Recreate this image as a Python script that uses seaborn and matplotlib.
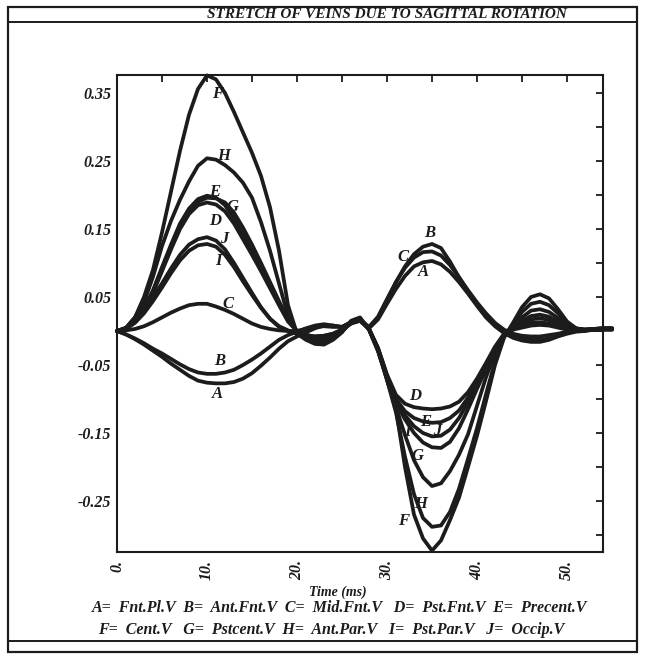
import numpy as np
import pandas as pd
import matplotlib
matplotlib.use("Agg")
import matplotlib.pyplot as plt
import seaborn as sns
from matplotlib.patches import Rectangle
from matplotlib.lines import Line2D

# ---------------- data ----------------
time_ms = list(range(0, 56))

vein_A = [0, -0.005, -0.012, -0.02, -0.029, -0.038, -0.048, -0.057, -0.066, -0.073,
          -0.076, -0.077, -0.077, -0.075, -0.07, -0.062, -0.051, -0.039, -0.026, -0.015,
          -0.008, -0.002, 0.004, 0.008, 0.008, 0.006, 0.012, 0.015, 0.004, 0.017,
          0.04, 0.062, 0.081, 0.095, 0.101, 0.103, 0.098, 0.087, 0.072, 0.055,
          0.037, 0.02, 0.007, -0.003, -0.01, -0.014, -0.016, -0.016, -0.013, -0.008,
          -0.004, -0.001, 0.0, 0.002, 0.003, 0.003]
vein_B = [0, -0.005, -0.011, -0.018, -0.026, -0.033, -0.041, -0.049, -0.056, -0.061,
          -0.063, -0.063, -0.061, -0.057, -0.05, -0.042, -0.033, -0.023, -0.013, -0.006,
          -0.001, 0.004, 0.008, 0.01, 0.008, 0.006, 0.013, 0.016, 0.005, 0.02,
          0.045, 0.072, 0.095, 0.113, 0.124, 0.128, 0.122, 0.102, 0.079, 0.058,
          0.04, 0.023, 0.01, 0.001, -0.007, -0.011, -0.013, -0.013, -0.011, -0.007,
          -0.003, 0.0, 0.001, 0.002, 0.002, 0.002]
vein_C = [0, 0.001, 0.003, 0.007, 0.013, 0.02, 0.027, 0.033, 0.038, 0.04,
          0.04, 0.036, 0.031, 0.025, 0.018, 0.011, 0.006, 0.003, 0.001, 0.0,
          0.0, 0.003, 0.006, 0.007, 0.006, 0.006, 0.013, 0.017, 0.006, 0.021,
          0.047, 0.072, 0.093, 0.108, 0.116, 0.117, 0.111, 0.097, 0.079, 0.06,
          0.042, 0.026, 0.012, 0.002, -0.004, -0.007, -0.008, -0.008, -0.006, -0.004,
          -0.001, 0.0, 0.001, 0.002, 0.002, 0.002]
vein_D = [0, 0.004, 0.015, 0.031, 0.056, 0.088, 0.12, 0.15, 0.172, 0.185,
          0.189, 0.186, 0.176, 0.158, 0.135, 0.112, 0.088, 0.063, 0.038, 0.014,
          0.0, -0.005, -0.009, -0.01, -0.006, 0.001, 0.011, 0.016, 0.003, -0.025,
          -0.064, -0.094, -0.107, -0.112, -0.114, -0.115, -0.114, -0.111, -0.104, -0.09,
          -0.07, -0.047, -0.023, -0.004, 0.002, 0.005, 0.008, 0.009, 0.008, 0.005,
          0.002, 0.001, 0.001, 0.002, 0.003, 0.003]
vein_E = [0, 0.004, 0.016, 0.033, 0.06, 0.094, 0.127, 0.158, 0.18, 0.194,
          0.199, 0.196, 0.185, 0.166, 0.142, 0.117, 0.092, 0.066, 0.04, 0.015,
          0.0, -0.006, -0.01, -0.011, -0.007, 0.001, 0.012, 0.017, 0.003, -0.025,
          -0.066, -0.1, -0.118, -0.128, -0.133, -0.135, -0.134, -0.128, -0.117, -0.098,
          -0.075, -0.05, -0.025, -0.006, 0.002, 0.008, 0.012, 0.013, 0.011, 0.007,
          0.003, 0.001, 0.001, 0.002, 0.003, 0.003]
vein_F = [0, 0.004, 0.02, 0.05, 0.09, 0.145, 0.205, 0.265, 0.318, 0.356,
          0.376, 0.37, 0.35, 0.322, 0.292, 0.262, 0.228, 0.182, 0.118, 0.038,
          -0.004, -0.013, -0.019, -0.02, -0.013, -0.002, 0.015, 0.02, 0.002, -0.03,
          -0.07, -0.115, -0.2, -0.27, -0.305, -0.323, -0.308, -0.278, -0.245, -0.2,
          -0.154, -0.103, -0.05, -0.01, 0.012, 0.035, 0.05, 0.054, 0.048, 0.032,
          0.014, 0.004, 0.001, 0.002, 0.003, 0.003]
vein_G = [0, 0.004, 0.015, 0.032, 0.058, 0.09, 0.123, 0.153, 0.176, 0.19,
          0.196, 0.195, 0.189, 0.174, 0.152, 0.127, 0.1, 0.072, 0.044, 0.017,
          0.0, -0.008, -0.013, -0.013, -0.008, 0.0, 0.013, 0.018, 0.003, -0.028,
          -0.072, -0.112, -0.153, -0.19, -0.215, -0.228, -0.224, -0.206, -0.182, -0.152,
          -0.11, -0.068, -0.033, -0.008, 0.006, 0.02, 0.03, 0.032, 0.028, 0.019,
          0.009, 0.003, 0.002, 0.003, 0.004, 0.004]
vein_H = [0, 0.005, 0.02, 0.042, 0.08, 0.125, 0.162, 0.193, 0.22, 0.243,
          0.254, 0.252, 0.244, 0.233, 0.218, 0.196, 0.16, 0.118, 0.07, 0.022,
          -0.002, -0.011, -0.017, -0.017, -0.011, -0.001, 0.014, 0.019, 0.002, -0.028,
          -0.072, -0.12, -0.185, -0.24, -0.275, -0.288, -0.286, -0.266, -0.232, -0.188,
          -0.143, -0.093, -0.045, -0.008, 0.01, 0.028, 0.04, 0.043, 0.038, 0.026,
          0.012, 0.004, 0.002, 0.003, 0.004, 0.004]
vein_I = [0, 0.003, 0.012, 0.026, 0.044, 0.064, 0.085, 0.104, 0.118, 0.126,
          0.128, 0.124, 0.112, 0.094, 0.073, 0.053, 0.034, 0.018, 0.007, 0.001,
          -0.004, -0.007, -0.008, -0.007, -0.004, 0.002, 0.011, 0.015, 0.003, -0.027,
          -0.068, -0.106, -0.13, -0.15, -0.164, -0.171, -0.172, -0.163, -0.143, -0.115,
          -0.085, -0.056, -0.028, -0.008, 0.004, 0.015, 0.022, 0.024, 0.021, 0.014,
          0.007, 0.003, 0.002, 0.003, 0.004, 0.004]
vein_J = [0, 0.004, 0.014, 0.03, 0.05, 0.07, 0.092, 0.112, 0.127, 0.135,
          0.138, 0.133, 0.12, 0.1, 0.078, 0.056, 0.035, 0.018, 0.006, 0.0,
          -0.004, -0.007, -0.008, -0.007, -0.004, 0.002, 0.012, 0.016, 0.003, -0.026,
          -0.067, -0.103, -0.124, -0.14, -0.15, -0.155, -0.154, -0.145, -0.128, -0.105,
          -0.08, -0.053, -0.027, -0.007, 0.003, 0.011, 0.017, 0.019, 0.016, 0.011,
          0.005, 0.002, 0.002, 0.003, 0.003, 0.003]

curve_names = ["A", "B", "C", "D", "E", "F", "G", "H", "I", "J"]
curve_values = [vein_A, vein_B, vein_C, vein_D, vein_E,
                vein_F, vein_G, vein_H, vein_I, vein_J]

# curve letters: (letter, time, stretch) for first and second lobes
labels_lobe1 = [("F", 11.2, 0.349), ("H", 11.8, 0.257), ("E", 10.9, 0.204),
                ("G", 12.8, 0.182), ("D", 10.9, 0.162), ("J", 11.9, 0.135),
                ("I", 11.3, 0.103), ("C", 12.3, 0.040), ("B", 11.4, -0.044),
                ("A", 11.2, -0.093)]
labels_lobe2 = [("C", 31.8, 0.109), ("B", 34.7, 0.144), ("A", 34.0, 0.087),
                ("D", 33.1, -0.096), ("E", 34.3, -0.134), ("J", 35.6, -0.147),
                ("I", 32.3, -0.149), ("G", 33.4, -0.184), ("H", 33.7, -0.254),
                ("F", 31.8, -0.279)]

y_major = [-0.25, -0.15, -0.05, 0.05, 0.15, 0.25, 0.35]
y_minor = [-0.30, -0.20, -0.10, 0.0, 0.10, 0.20, 0.30]
x_major = [0, 10, 20, 30, 40, 50]
x_minor = [5, 15, 25, 35, 45]
x_ticklabels = ["0.", "10.", "20.", "30.", "40.", "50."]

title_text = "STRETCH OF VEINS DUE TO SAGITTAL ROTATION"
xlabel_text = "Time (ms)"
legend_line1 = "A=  Fnt.Pl.V  B=  Ant.Fnt.V  C=  Mid.Fnt.V   D=  Pst.Fnt.V  E=  Precent.V"
legend_line2 = "F=  Cent.V   G=  Pstcent.V  H=  Ant.Par.V   I=  Pst.Par.V   J=  Occip.V"

# ---------------- styling ----------------
sns.set_style("white")
plt.rcParams['font.family'] = ['Liberation Serif', 'DejaVu Serif']
plt.rcParams['font.weight'] = 'bold'
plt.rcParams['font.style'] = 'italic'
INK = "#1c1c1c"

W, H = 645, 660
fig = plt.figure(figsize=(W / 100, H / 100), dpi=100)
ax = fig.add_axes([117 / W, 1 - 552 / H, (603 - 117) / W, (552 - 75) / H])

rows = []
for name, vals in zip(curve_names, curve_values):
    for t, v in zip(time_ms, vals):
        rows.append({"time": t, "stretch": v, "vein": name})
df = pd.DataFrame(rows)

sns.lineplot(data=df, x="time", y="stretch", hue="vein",
             palette={n: INK for n in curve_names}, linewidth=2.7,
             estimator=None, sort=False, legend=False, ax=ax)
for ln in ax.lines:
    ln.set_clip_on(False)
    ln.set_solid_capstyle("round")
    ln.set_solid_joinstyle("round")

ax.set_xlim(0, 54)
ax.set_ylim(-0.325, 0.3765)
ax.set_xticks(x_major)
ax.set_xticks(x_minor, minor=True)
ax.set_xticklabels(x_ticklabels, rotation=90, fontsize=11.5,
                   fontweight="bold", fontstyle="italic")
ax.set_yticks(y_major)
ax.set_yticks(y_minor, minor=True)
ax.set_yticklabels([f"{v:.2f}" for v in y_major], fontsize=11.5,
                   fontweight="bold", fontstyle="italic")
ax.tick_params(which="both", direction="in", length=5, width=1.3,
               top=True, right=True, colors=INK, pad=4)
ax.tick_params(axis="x", pad=6)
ax.set_xlabel("")
ax.set_ylabel("")
for s in ax.spines.values():
    s.set_linewidth(1.5)
    s.set_color(INK)
    s.set_visible(True)

for letter, tx, ty in labels_lobe1 + labels_lobe2:
    ax.text(tx, ty, letter, fontsize=12, fontweight="bold", fontstyle="italic",
            ha="center", va="center", color=INK)

# ---------------- page frame and texts ----------------
fig.add_artist(Rectangle((8 / W, 1 - 652 / H), (637 - 8) / W, (652 - 7) / H,
                         transform=fig.transFigure, fill=False, lw=1.6, ec=INK))
for yy in (22, 641):
    fig.add_artist(Line2D([8 / W, 637 / W], [1 - yy / H, 1 - yy / H],
                          transform=fig.transFigure, lw=1.4, color=INK))

fig.text(387 / W, 1 - 14 / H, title_text, ha="center", va="center",
         fontsize=11, fontweight="bold", fontstyle="italic", color=INK)
fig.text(338 / W, 1 - 592 / H, xlabel_text, ha="center", va="center",
         fontsize=10, fontweight="bold", fontstyle="italic", color=INK)
fig.text(340 / W, 1 - 608 / H, legend_line1, ha="center", va="center",
         fontsize=11.5, fontweight="bold", fontstyle="italic", color=INK)
fig.text(331 / W, 1 - 630 / H, legend_line2, ha="center", va="center",
         fontsize=11.5, fontweight="bold", fontstyle="italic", color=INK)

fig.savefig("out.png", dpi=100)
